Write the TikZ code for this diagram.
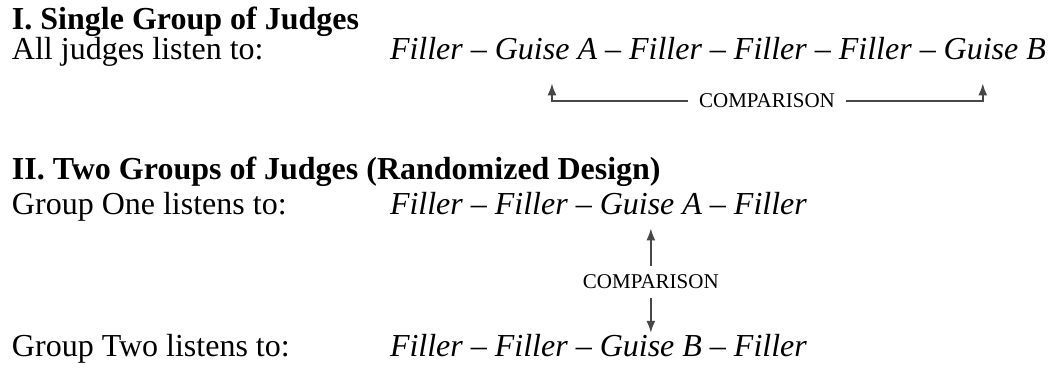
\documentclass[tikz,border=0pt]{standalone}
\usepackage{fontspec}
\setmainfont{Liberation Serif}
\usetikzlibrary{arrows.meta}
\tikzset{
  base/.style={inner sep=0pt, outer sep=0pt, anchor=base west},
  heading/.style={base, font=\fontsize{32}{38}\selectfont\bfseries},
  label/.style={base, font=\fontsize{32}{38}\selectfont},
  seq/.style={base, font=\fontsize{32}{38}\selectfont\itshape},
  cmp/.style={inner xsep=11pt, inner ysep=9pt, outer sep=0pt, anchor=base,
    font=\fontsize{21}{25}\selectfont},
  arr/.style={draw=black!72, line width=1.8pt, -{Latex[length=12pt,width=9pt]}}
}
\begin{document}
\begin{tikzpicture}[x=1pt,y=1pt]
\useasboundingbox (0,0) rectangle (1050,372);

% Part I: one group hears both guises
\node[heading] (h1) at (12,342) {I. Single Group of Judges};
\node[label] (l1) at (12,312) {All judges listen to:};
\node[seq] (s1a) at (390,312) {Filler – \null};
\node[seq] (gA1) at (s1a.base east) {Guise A};
\node[seq] (s1b) at (gA1.base east) {\null\ – Filler – Filler – Filler – \null};
\node[seq] (gB1) at (s1b.base east) {Guise B};
\node[cmp] (c1) at (767,264) {COMPARISON};
\draw[arr, shorten >=23pt] (c1.west) -| ([xshift=6pt]gA1.south);
\draw[arr, shorten >=23pt] (c1.east) -| ([xshift=-12pt]gB1.south);

% Part II: two groups, one guise each
\node[heading] (h2) at (12,192) {II. Two Groups of Judges (Randomized Design)};
\node[label] (l2) at (12,157) {Group One listens to:};
\node[seq] (s2a) at (390,157) {Filler – Filler – \null};
\node[seq] (gA2) at (s2a.base east) {Guise A};
\node[seq] (s2b) at (gA2.base east) {\null\ – Filler};
\node[label] (l3) at (12,15) {Group Two listens to:};
\node[seq] (s3a) at (390,15) {Filler – Filler – \null};
\node[seq] (gB2) at (s3a.base east) {Guise B};
\node[seq] (s3b) at (gB2.base east) {\null\ – Filler};
\node[cmp] (c2) at (gA2.base |- 0,83) {COMPARISON};
\draw[arr, shorten >=13pt] (c2.north) -- (gA2.south);
\draw[arr, shorten >=3pt] (c2.south) -- (gB2.north);
\end{tikzpicture}
\end{document}
